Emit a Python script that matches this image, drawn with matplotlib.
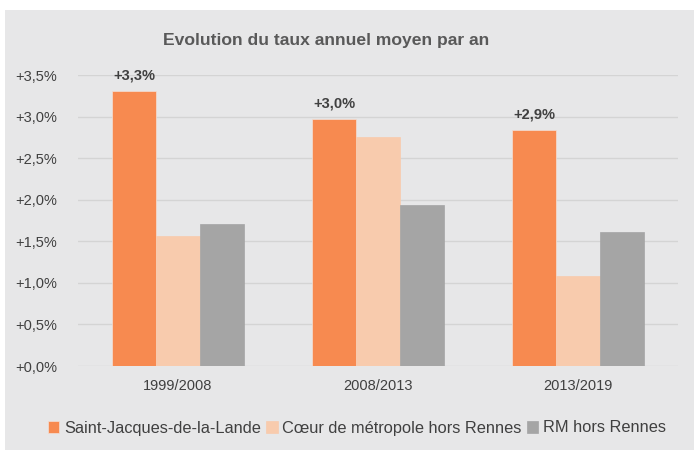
import matplotlib.pyplot as plt
import numpy as np
from matplotlib.patches import Rectangle

periods = ["1999/2008", "2008/2013", "2013/2019"]
series_names = ["Saint-Jacques-de-la-Lande", "Cœur de métropole hors Rennes", "RM hors Rennes"]
sjl = [3.31, 2.97, 2.84]
coeur = [1.56, 2.76, 1.08]
rm = [1.71, 1.94, 1.61]
value_labels = ["+3,3%", "+3,0%", "+2,9%"]
yticks = [0, 0.5, 1.0, 1.5, 2.0, 2.5, 3.0, 3.5]

COLORS = ["#F78A50", "#F8CBAD", "#A5A5A5"]
BG = "#E7E7E8"
TXT = "#404040"

plt.rcParams["font.family"] = ["Liberation Sans", "DejaVu Sans"]

fig = plt.figure(figsize=(6.94, 4.5), dpi=100, facecolor="white")
fig.patches.append(Rectangle((5 / 694, 0), 1, 1 - 10 / 450, transform=fig.transFigure,
                             facecolor=BG, edgecolor="none", zorder=-10))

# plot area: 78..678 px wide, y 75..366 px
ax = fig.add_axes([78 / 694, 1 - 366 / 450, 600 / 694, 291 / 450])
ax.set_facecolor("none")

x = np.arange(len(periods))
w = 0.22
for i, (vals, color) in enumerate(zip([sjl, coeur, rm], COLORS)):
    ax.bar(x + (i - 1) * w, vals, width=w, color=color, edgecolor="#F2E0D6" if i == 0 else color,
           linewidth=0.5, label=series_names[i], zorder=3)

for xi, v, lab in zip(x, sjl, value_labels):
    ax.text(xi - w, v + 0.1, lab, ha="center", va="bottom", fontsize=10.5,
            fontweight="bold", color=TXT)

ax.set_ylim(0, 3.5)
ax.set_xlim(-0.5, 2.5)
ax.set_yticks(yticks)
ax.set_yticklabels([f"+{t:.1f}%".replace(".", ",") for t in yticks])
ax.set_xticks(x)
ax.set_xticklabels(periods)
ax.grid(True, axis="y", color="#D4D4D4", linewidth=1, zorder=0)
for spine in ax.spines.values():
    spine.set_visible(False)
ax.tick_params(axis="both", length=0, labelsize=10.5, colors=TXT)
ax.tick_params(axis="y", pad=15)
ax.tick_params(axis="x", pad=9)

fig.text(326 / 694, 1 - 40 / 450, "Evolution du taux annuel moyen par an", ha="center",
         va="center", fontsize=12.6, fontweight="bold", color="#595959")

fig.legend(loc="center", bbox_to_anchor=(357 / 694, 1 - 428 / 450), ncol=3, frameon=False,
           fontsize=11.8, handlelength=0.7, handleheight=0.7, handletextpad=0.3,
           columnspacing=0.3, labelcolor=TXT)

fig.savefig("out.png", dpi=100, facecolor="white")
